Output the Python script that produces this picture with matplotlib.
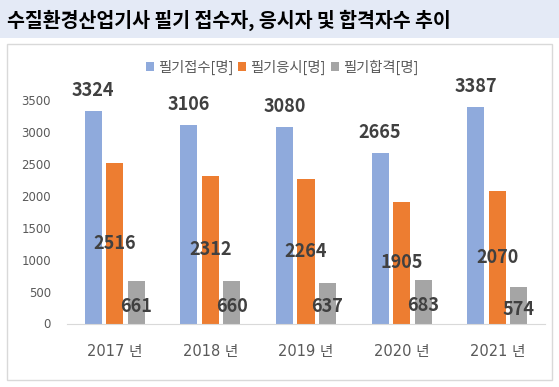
import matplotlib.pyplot as plt
import numpy as np
from matplotlib.patches import Rectangle

plt.rcParams["font.family"] = ["Noto Sans CJK KR", "DejaVu Sans"]

years = ["2017 년", "2018 년", "2019 년", "2020 년", "2021 년"]
series_names = ["필기접수[명]", "필기응시[명]", "필기합격[명]"]
applied = [3324, 3106, 3080, 2665, 3387]
took = [2516, 2312, 2264, 1905, 2070]
passed = [661, 660, 637, 683, 574]

colors = ["#8FAADC", "#ED7D31", "#A5A5A5"]
label_color = "#404040"
tick_color = "#595959"
digit_fonts = ["DejaVu Sans", "Noto Sans CJK KR"]

figure = plt.figure(figsize=(5.59, 3.87), dpi=100)

# title band and chart frame, kept behind the axes
figure.patches.append(
    Rectangle((0, 1 - 38 / 387), 1, 38 / 387, transform=figure.transFigure,
              facecolor="#E4EAF6", edgecolor="none", zorder=-10)
)
figure.patches.append(
    Rectangle((7 / 559, 7 / 387), 545 / 559, 336 / 387, transform=figure.transFigure,
              facecolor="white", edgecolor="#D9D9D9", linewidth=1, zorder=-10)
)
figure.text(7 / 559, 1 - 20 / 387, "수질환경산업기사 필기 접수자, 응시자 및 합격자수 추이",
            fontsize=14, fontweight="bold", color="black", va="center", ha="left")

axis = figure.add_axes([67 / 559, 63.5 / 387, 478 / 559, 223.5 / 387])
axis.set_facecolor("none")
axis.set_zorder(5)

x = np.arange(len(years))
step = 0.225
width = 0.178

axis.bar(x - step, applied, width, color=colors[0], label=series_names[0])
axis.bar(x, took, width, color=colors[1], label=series_names[1])
axis.bar(x + step, passed, width, color=colors[2], label=series_names[2])

for xi, value in zip(x, applied):
    axis.text(xi - step, value + 170, str(value), ha="center", va="bottom",
              fontsize=13, fontweight="bold", color=label_color, clip_on=False)
for xi, value in zip(x, took):
    axis.text(xi, value / 2, str(value), ha="center", va="center",
              fontsize=13, fontweight="bold", color=label_color)
for xi, value in zip(x, passed):
    axis.text(xi + step, value / 2 - 60, str(value), ha="center", va="center",
              fontsize=13, fontweight="bold", color=label_color)

axis.set_xlim(-0.5, len(years) - 0.5)
axis.set_ylim(0, 3500)
axis.set_yticks(np.arange(0, 3501, 500))
axis.set_xticks(x)
axis.set_xticklabels(years)

axis.tick_params(axis="y", length=0, labelsize=8.5, labelcolor=tick_color, pad=11.5)
axis.tick_params(axis="x", length=0, labelsize=10.5, labelcolor=tick_color, pad=15)
for tick_label in axis.get_xticklabels() + axis.get_yticklabels():
    tick_label.set_family(digit_fonts)

for side in ["top", "right", "left"]:
    axis.spines[side].set_visible(False)
axis.spines["bottom"].set_color("#D9D9D9")

axis.legend(
    loc="center",
    bbox_to_anchor=(0.45, 1.148),
    ncol=3,
    frameon=False,
    fontsize=10.3,
    handlelength=0.55,
    handleheight=0.55,
    handletextpad=0.3,
    columnspacing=0.35,
    labelcolor=tick_color,
)

figure.savefig("out.png", dpi=100)
plt.close(figure)
